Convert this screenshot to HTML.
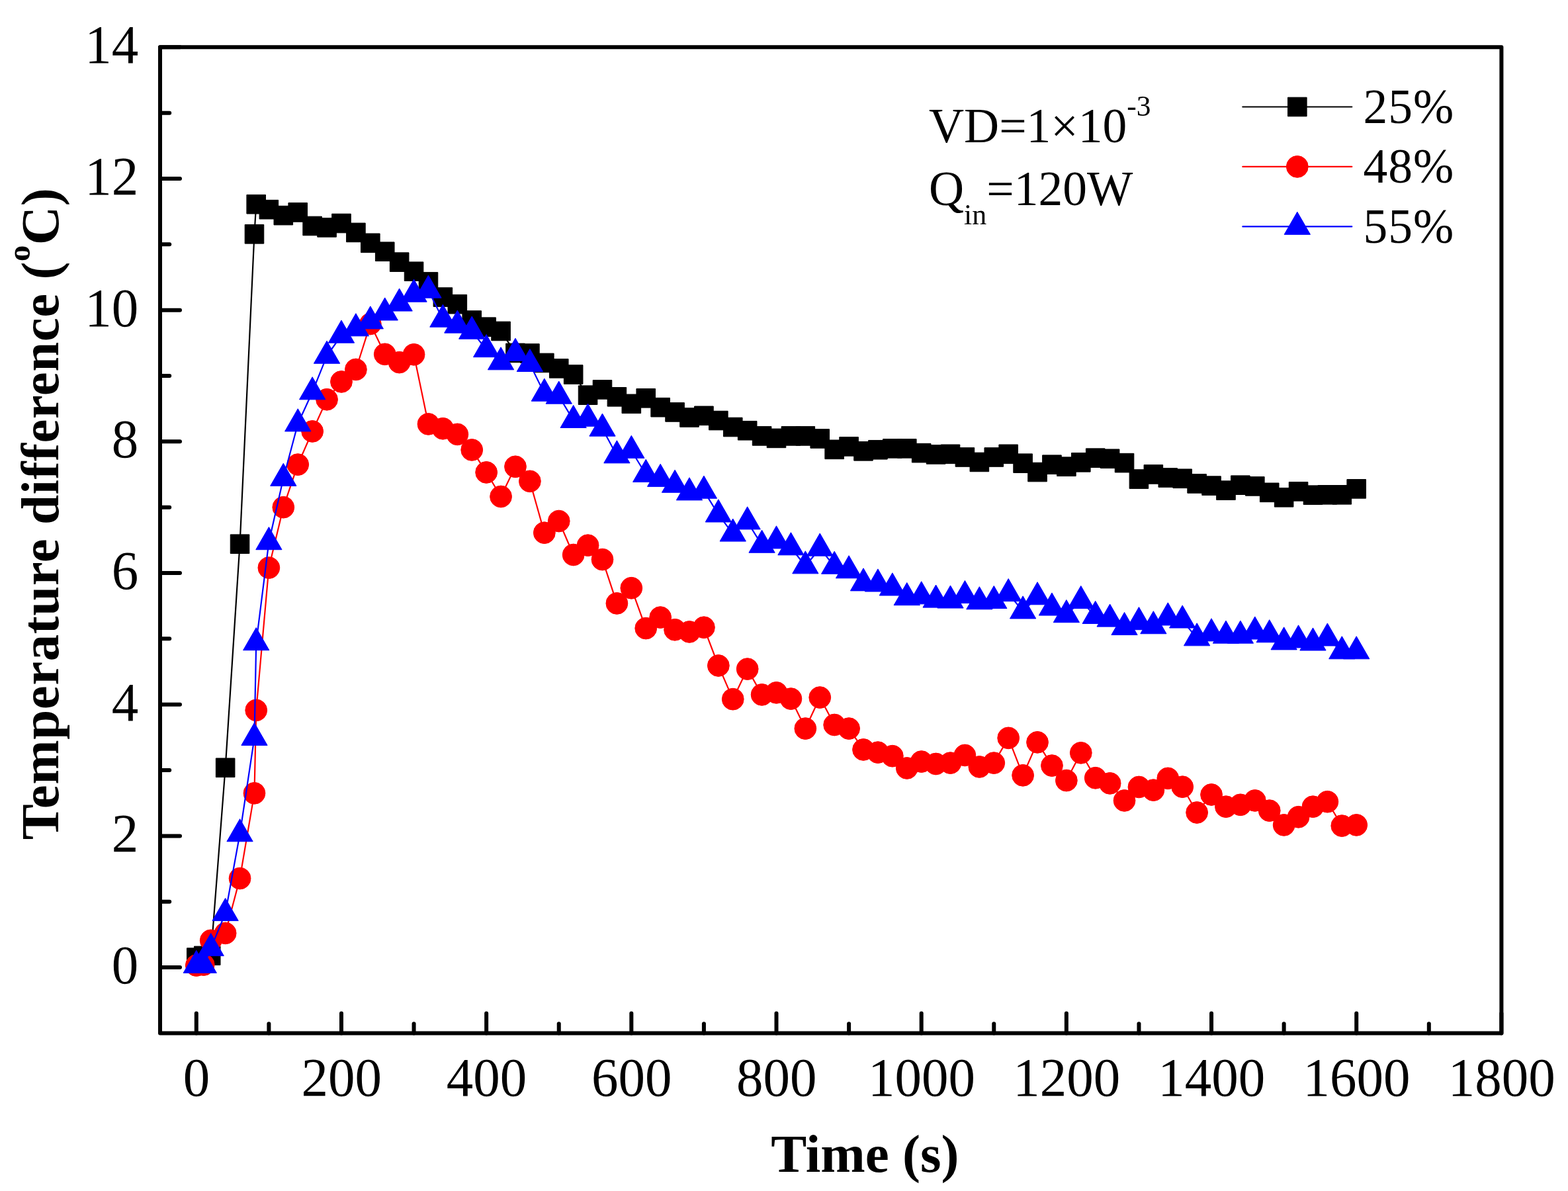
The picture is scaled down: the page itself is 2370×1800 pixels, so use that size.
<!DOCTYPE html>
<html lang="en"><head><meta charset="utf-8"><title>Temperature difference vs time</title>
<style>
html,body{margin:0;padding:0;background:#fff;}
body{width:2370px;height:1800px;overflow:hidden;}
svg{display:block;}
text{font-family:"Liberation Serif",serif;fill:#000;}
.tk{font-size:81px;}
.tt{font-size:81px;font-weight:bold;}
.lg{font-size:73.5px;}
</style></head><body>
<svg width="2370" height="1800" viewBox="0 0 2370 1800">
<rect x="0" y="0" width="2370" height="1800" fill="#fff"/>
<g>
<polyline fill="none" stroke="#000000" stroke-width="2.2" stroke-linejoin="round" stroke-linecap="round" points="296.79,1447.16 307.75,1444.48 318.71,1444.18 340.63,1160.27 362.55,822.21 384.47,353.82 387.21,308.72 406.38,316.67 428.3,325.61 450.22,320.94 472.14,341.5 494.06,343.89 515.97,337.53 537.89,351.44 559.81,367.33 581.73,380.25 603.64,396.14 625.56,410.25 647.48,425.94 669.4,449.09 691.32,459.72 713.23,484.06 735.15,494.19 757.07,500.45 778.99,533.43 800.9,534.03 822.82,548.43 844.74,556.87 866.66,566.01 888.58,597.21 910.49,588.86 932.41,599.79 954.33,610.32 976.25,601.78 998.17,615.68 1020.08,622.94 1042,630.98 1063.92,628.3 1085.84,635.55 1107.75,645.49 1129.67,650.75 1151.59,658.9 1173.51,662.37 1195.43,658.9 1217.34,658.9 1239.26,662.97 1261.18,679.36 1283.1,674.89 1305.02,681.84 1326.93,679.76 1348.85,677.87 1370.77,677.87 1392.69,684.63 1414.6,686.91 1436.52,686.31 1458.44,690.98 1480.36,698.43 1502.28,690.98 1524.19,686.31 1546.11,700.22 1568.03,713.53 1589.95,702.21 1611.86,705.19 1633.78,698.83 1655.7,692.18 1677.62,693.27 1699.54,699.63 1721.45,724.06 1743.37,716.91 1765.29,721.98 1787.21,723.27 1809.13,730.92 1831.04,734.1 1852.96,741.15 1874.88,733.2 1896.8,734.89 1918.71,744.33 1940.63,751.78 1962.55,742.84 1984.47,748.2 2006.39,747.81 2028.3,747.81 2050.22,738.86"/>
<g fill="#000000" stroke="#000000" stroke-width="1" stroke-linejoin="round">
<rect x="282.49" y="1432.86" width="28.6" height="28.6"/>
<rect x="293.45" y="1430.18" width="28.6" height="28.6"/>
<rect x="304.41" y="1429.88" width="28.6" height="28.6"/>
<rect x="326.33" y="1145.97" width="28.6" height="28.6"/>
<rect x="348.25" y="807.91" width="28.6" height="28.6"/>
<rect x="370.17" y="339.52" width="28.6" height="28.6"/>
<rect x="372.91" y="294.42" width="28.6" height="28.6"/>
<rect x="392.08" y="302.37" width="28.6" height="28.6"/>
<rect x="414" y="311.31" width="28.6" height="28.6"/>
<rect x="435.92" y="306.64" width="28.6" height="28.6"/>
<rect x="457.84" y="327.2" width="28.6" height="28.6"/>
<rect x="479.76" y="329.59" width="28.6" height="28.6"/>
<rect x="501.67" y="323.23" width="28.6" height="28.6"/>
<rect x="523.59" y="337.14" width="28.6" height="28.6"/>
<rect x="545.51" y="353.03" width="28.6" height="28.6"/>
<rect x="567.43" y="365.95" width="28.6" height="28.6"/>
<rect x="589.34" y="381.84" width="28.6" height="28.6"/>
<rect x="611.26" y="395.95" width="28.6" height="28.6"/>
<rect x="633.18" y="411.64" width="28.6" height="28.6"/>
<rect x="655.1" y="434.79" width="28.6" height="28.6"/>
<rect x="677.02" y="445.42" width="28.6" height="28.6"/>
<rect x="698.93" y="469.76" width="28.6" height="28.6"/>
<rect x="720.85" y="479.89" width="28.6" height="28.6"/>
<rect x="742.77" y="486.15" width="28.6" height="28.6"/>
<rect x="764.69" y="519.13" width="28.6" height="28.6"/>
<rect x="786.6" y="519.73" width="28.6" height="28.6"/>
<rect x="808.52" y="534.13" width="28.6" height="28.6"/>
<rect x="830.44" y="542.57" width="28.6" height="28.6"/>
<rect x="852.36" y="551.71" width="28.6" height="28.6"/>
<rect x="874.28" y="582.91" width="28.6" height="28.6"/>
<rect x="896.19" y="574.56" width="28.6" height="28.6"/>
<rect x="918.11" y="585.49" width="28.6" height="28.6"/>
<rect x="940.03" y="596.02" width="28.6" height="28.6"/>
<rect x="961.95" y="587.48" width="28.6" height="28.6"/>
<rect x="983.87" y="601.38" width="28.6" height="28.6"/>
<rect x="1005.78" y="608.64" width="28.6" height="28.6"/>
<rect x="1027.7" y="616.68" width="28.6" height="28.6"/>
<rect x="1049.62" y="614" width="28.6" height="28.6"/>
<rect x="1071.54" y="621.25" width="28.6" height="28.6"/>
<rect x="1093.45" y="631.19" width="28.6" height="28.6"/>
<rect x="1115.37" y="636.45" width="28.6" height="28.6"/>
<rect x="1137.29" y="644.6" width="28.6" height="28.6"/>
<rect x="1159.21" y="648.07" width="28.6" height="28.6"/>
<rect x="1181.13" y="644.6" width="28.6" height="28.6"/>
<rect x="1203.04" y="644.6" width="28.6" height="28.6"/>
<rect x="1224.96" y="648.67" width="28.6" height="28.6"/>
<rect x="1246.88" y="665.06" width="28.6" height="28.6"/>
<rect x="1268.8" y="660.59" width="28.6" height="28.6"/>
<rect x="1290.72" y="667.54" width="28.6" height="28.6"/>
<rect x="1312.63" y="665.46" width="28.6" height="28.6"/>
<rect x="1334.55" y="663.57" width="28.6" height="28.6"/>
<rect x="1356.47" y="663.57" width="28.6" height="28.6"/>
<rect x="1378.39" y="670.33" width="28.6" height="28.6"/>
<rect x="1400.3" y="672.61" width="28.6" height="28.6"/>
<rect x="1422.22" y="672.01" width="28.6" height="28.6"/>
<rect x="1444.14" y="676.68" width="28.6" height="28.6"/>
<rect x="1466.06" y="684.13" width="28.6" height="28.6"/>
<rect x="1487.98" y="676.68" width="28.6" height="28.6"/>
<rect x="1509.89" y="672.01" width="28.6" height="28.6"/>
<rect x="1531.81" y="685.92" width="28.6" height="28.6"/>
<rect x="1553.73" y="699.23" width="28.6" height="28.6"/>
<rect x="1575.65" y="687.91" width="28.6" height="28.6"/>
<rect x="1597.56" y="690.89" width="28.6" height="28.6"/>
<rect x="1619.48" y="684.53" width="28.6" height="28.6"/>
<rect x="1641.4" y="677.88" width="28.6" height="28.6"/>
<rect x="1663.32" y="678.97" width="28.6" height="28.6"/>
<rect x="1685.24" y="685.33" width="28.6" height="28.6"/>
<rect x="1707.15" y="709.76" width="28.6" height="28.6"/>
<rect x="1729.07" y="702.61" width="28.6" height="28.6"/>
<rect x="1750.99" y="707.68" width="28.6" height="28.6"/>
<rect x="1772.91" y="708.97" width="28.6" height="28.6"/>
<rect x="1794.83" y="716.62" width="28.6" height="28.6"/>
<rect x="1816.74" y="719.8" width="28.6" height="28.6"/>
<rect x="1838.66" y="726.85" width="28.6" height="28.6"/>
<rect x="1860.58" y="718.9" width="28.6" height="28.6"/>
<rect x="1882.5" y="720.59" width="28.6" height="28.6"/>
<rect x="1904.41" y="730.03" width="28.6" height="28.6"/>
<rect x="1926.33" y="737.48" width="28.6" height="28.6"/>
<rect x="1948.25" y="728.54" width="28.6" height="28.6"/>
<rect x="1970.17" y="733.9" width="28.6" height="28.6"/>
<rect x="1992.09" y="733.51" width="28.6" height="28.6"/>
<rect x="2014" y="733.51" width="28.6" height="28.6"/>
<rect x="2035.92" y="724.56" width="28.6" height="28.6"/>
</g></g>
<g>
<polyline fill="none" stroke="#ff0000" stroke-width="2.2" stroke-linejoin="round" stroke-linecap="round" points="296.79,1459.08 307.75,1458.09 318.71,1421.33 340.63,1410.4 362.55,1327.55 384.47,1198.81 387.21,1073.44 406.38,858.07 428.3,766.68 450.22,702.11 472.14,651.94 494.06,603.76 515.97,576.94 537.89,558.46 559.81,489.52 581.73,535.32 603.64,547.64 625.56,535.81 647.48,640.92 669.4,647.77 691.32,656.41 713.23,679.96 735.15,713.93 757.07,750.49 778.99,705.29 800.9,727.34 822.82,805.22 844.74,787.54 866.66,838.5 888.58,824.2 910.49,845.56 932.41,911.92 954.33,888.77 976.25,949.56 998.17,933.07 1020.08,951.75 1042,954.93 1063.92,948.27 1085.84,1005.99 1107.75,1056.65 1129.67,1011.06 1151.59,1049.9 1173.51,1046.82 1195.43,1056.06 1217.34,1101.06 1239.26,1054.07 1261.18,1095.5 1283.1,1101.06 1305.02,1132.95 1326.93,1137.12 1348.85,1142.68 1370.77,1160.96 1392.69,1151.03 1414.6,1154.5 1436.52,1153.11 1458.44,1141.49 1480.36,1158.97 1502.28,1153.11 1524.19,1115.36 1546.11,1171.79 1568.03,1121.82 1589.95,1157.09 1611.86,1179.54 1633.78,1137.81 1655.7,1175.76 1677.62,1183.91 1699.54,1209.94 1721.45,1189.47 1743.37,1194.14 1765.29,1176.36 1787.21,1189.17 1809.13,1228.01 1831.04,1200.99 1852.96,1219.17 1874.88,1216.29 1896.8,1209.94 1918.71,1225.13 1940.63,1246.89 1962.55,1234.77 1984.47,1219.17 2006.39,1211.72 2028.3,1248.08 2050.22,1246.89"/>
<g fill="#ff0000" stroke="#ff0000" stroke-width="1" stroke-linejoin="round">
<circle cx="296.79" cy="1459.08" r="16.4"/>
<circle cx="307.75" cy="1458.09" r="16.4"/>
<circle cx="318.71" cy="1421.33" r="16.4"/>
<circle cx="340.63" cy="1410.4" r="16.4"/>
<circle cx="362.55" cy="1327.55" r="16.4"/>
<circle cx="384.47" cy="1198.81" r="16.4"/>
<circle cx="387.21" cy="1073.44" r="16.4"/>
<circle cx="406.38" cy="858.07" r="16.4"/>
<circle cx="428.3" cy="766.68" r="16.4"/>
<circle cx="450.22" cy="702.11" r="16.4"/>
<circle cx="472.14" cy="651.94" r="16.4"/>
<circle cx="494.06" cy="603.76" r="16.4"/>
<circle cx="515.97" cy="576.94" r="16.4"/>
<circle cx="537.89" cy="558.46" r="16.4"/>
<circle cx="559.81" cy="489.52" r="16.4"/>
<circle cx="581.73" cy="535.32" r="16.4"/>
<circle cx="603.64" cy="547.64" r="16.4"/>
<circle cx="625.56" cy="535.81" r="16.4"/>
<circle cx="647.48" cy="640.92" r="16.4"/>
<circle cx="669.4" cy="647.77" r="16.4"/>
<circle cx="691.32" cy="656.41" r="16.4"/>
<circle cx="713.23" cy="679.96" r="16.4"/>
<circle cx="735.15" cy="713.93" r="16.4"/>
<circle cx="757.07" cy="750.49" r="16.4"/>
<circle cx="778.99" cy="705.29" r="16.4"/>
<circle cx="800.9" cy="727.34" r="16.4"/>
<circle cx="822.82" cy="805.22" r="16.4"/>
<circle cx="844.74" cy="787.54" r="16.4"/>
<circle cx="866.66" cy="838.5" r="16.4"/>
<circle cx="888.58" cy="824.2" r="16.4"/>
<circle cx="910.49" cy="845.56" r="16.4"/>
<circle cx="932.41" cy="911.92" r="16.4"/>
<circle cx="954.33" cy="888.77" r="16.4"/>
<circle cx="976.25" cy="949.56" r="16.4"/>
<circle cx="998.17" cy="933.07" r="16.4"/>
<circle cx="1020.08" cy="951.75" r="16.4"/>
<circle cx="1042" cy="954.93" r="16.4"/>
<circle cx="1063.92" cy="948.27" r="16.4"/>
<circle cx="1085.84" cy="1005.99" r="16.4"/>
<circle cx="1107.75" cy="1056.65" r="16.4"/>
<circle cx="1129.67" cy="1011.06" r="16.4"/>
<circle cx="1151.59" cy="1049.9" r="16.4"/>
<circle cx="1173.51" cy="1046.82" r="16.4"/>
<circle cx="1195.43" cy="1056.06" r="16.4"/>
<circle cx="1217.34" cy="1101.06" r="16.4"/>
<circle cx="1239.26" cy="1054.07" r="16.4"/>
<circle cx="1261.18" cy="1095.5" r="16.4"/>
<circle cx="1283.1" cy="1101.06" r="16.4"/>
<circle cx="1305.02" cy="1132.95" r="16.4"/>
<circle cx="1326.93" cy="1137.12" r="16.4"/>
<circle cx="1348.85" cy="1142.68" r="16.4"/>
<circle cx="1370.77" cy="1160.96" r="16.4"/>
<circle cx="1392.69" cy="1151.03" r="16.4"/>
<circle cx="1414.6" cy="1154.5" r="16.4"/>
<circle cx="1436.52" cy="1153.11" r="16.4"/>
<circle cx="1458.44" cy="1141.49" r="16.4"/>
<circle cx="1480.36" cy="1158.97" r="16.4"/>
<circle cx="1502.28" cy="1153.11" r="16.4"/>
<circle cx="1524.19" cy="1115.36" r="16.4"/>
<circle cx="1546.11" cy="1171.79" r="16.4"/>
<circle cx="1568.03" cy="1121.82" r="16.4"/>
<circle cx="1589.95" cy="1157.09" r="16.4"/>
<circle cx="1611.86" cy="1179.54" r="16.4"/>
<circle cx="1633.78" cy="1137.81" r="16.4"/>
<circle cx="1655.7" cy="1175.76" r="16.4"/>
<circle cx="1677.62" cy="1183.91" r="16.4"/>
<circle cx="1699.54" cy="1209.94" r="16.4"/>
<circle cx="1721.45" cy="1189.47" r="16.4"/>
<circle cx="1743.37" cy="1194.14" r="16.4"/>
<circle cx="1765.29" cy="1176.36" r="16.4"/>
<circle cx="1787.21" cy="1189.17" r="16.4"/>
<circle cx="1809.13" cy="1228.01" r="16.4"/>
<circle cx="1831.04" cy="1200.99" r="16.4"/>
<circle cx="1852.96" cy="1219.17" r="16.4"/>
<circle cx="1874.88" cy="1216.29" r="16.4"/>
<circle cx="1896.8" cy="1209.94" r="16.4"/>
<circle cx="1918.71" cy="1225.13" r="16.4"/>
<circle cx="1940.63" cy="1246.89" r="16.4"/>
<circle cx="1962.55" cy="1234.77" r="16.4"/>
<circle cx="1984.47" cy="1219.17" r="16.4"/>
<circle cx="2006.39" cy="1211.72" r="16.4"/>
<circle cx="2028.3" cy="1248.08" r="16.4"/>
<circle cx="2050.22" cy="1246.89" r="16.4"/>
</g></g>
<g>
<polyline fill="none" stroke="#0000ff" stroke-width="2.2" stroke-linejoin="round" stroke-linecap="round" points="296.79,1459.08 307.75,1459.08 318.71,1433.25 340.63,1380.2 362.55,1260.4 384.47,1115.07 387.21,971.32 406.38,819.33 428.3,722.97 450.22,640.52 472.14,592.44 494.06,537.9 515.97,506.81 537.89,496.48 559.81,485.55 581.73,472.63 603.64,458.73 625.56,444.82 647.48,438.86 669.4,482.87 691.32,491.81 713.23,500.85 735.15,528.26 757.07,547.44 778.99,533.93 800.9,550.12 822.82,594.82 844.74,598.8 866.66,635.15 888.58,632.87 910.49,647.77 932.41,688.5 954.33,680.95 976.25,717.01 998.17,723.96 1020.08,732.9 1042,744.53 1063.92,741.85 1085.84,777.61 1107.75,806.71 1129.67,788.53 1151.59,823.9 1173.51,817.54 1195.43,827.48 1217.34,855.49 1239.26,828.77 1261.18,855.89 1283.1,862.44 1305.02,881.52 1326.93,882.61 1348.85,888.57 1370.77,903.27 1392.69,901.48 1414.6,906.75 1436.52,907.64 1458.44,900.19 1480.36,909.43 1502.28,908.14 1524.19,897.31 1546.11,923.54 1568.03,902.38 1589.95,918.67 1611.86,929.3 1633.78,908.14 1655.7,931.09 1677.62,935.76 1699.54,948.17 1721.45,940.33 1743.37,946.39 1765.29,933.57 1787.21,937.64 1809.13,964.47 1831.04,957.51 1852.96,960.79 1874.88,960.79 1896.8,954.63 1918.71,959.4 1940.63,970.53 1962.55,967.55 1984.47,971.62 2006.39,964.66 2028.3,984.43 2050.22,984.43"/>
<g fill="#0000ff" stroke="#0000ff" stroke-width="1" stroke-linejoin="round">
<polygon points="296.79,1436.35 316.43,1470.45 277.16,1470.45"/>
<polygon points="307.75,1436.35 327.39,1470.45 288.12,1470.45"/>
<polygon points="318.71,1410.52 338.35,1444.62 299.08,1444.62"/>
<polygon points="340.63,1357.47 360.27,1391.57 320.99,1391.57"/>
<polygon points="362.55,1237.67 382.18,1271.77 342.91,1271.77"/>
<polygon points="384.47,1092.33 404.1,1126.43 364.83,1126.43"/>
<polygon points="387.21,948.59 406.84,982.69 367.57,982.69"/>
<polygon points="406.38,796.6 426.02,830.7 386.75,830.7"/>
<polygon points="428.3,700.24 447.94,734.34 408.67,734.34"/>
<polygon points="450.22,617.78 469.86,651.88 430.58,651.88"/>
<polygon points="472.14,569.7 491.77,603.8 452.5,603.8"/>
<polygon points="494.06,515.17 513.69,549.27 474.42,549.27"/>
<polygon points="515.97,484.07 535.61,518.17 496.34,518.17"/>
<polygon points="537.89,473.74 557.53,507.84 518.25,507.84"/>
<polygon points="559.81,462.81 579.44,496.91 540.17,496.91"/>
<polygon points="581.73,449.9 601.36,484 562.09,484"/>
<polygon points="603.64,435.99 623.28,470.09 584.01,470.09"/>
<polygon points="625.56,422.09 645.2,456.19 605.93,456.19"/>
<polygon points="647.48,416.12 667.12,450.22 627.84,450.22"/>
<polygon points="669.4,460.13 689.03,494.23 649.76,494.23"/>
<polygon points="691.32,469.07 710.95,503.17 671.68,503.17"/>
<polygon points="713.23,478.11 732.87,512.21 693.6,512.21"/>
<polygon points="735.15,505.53 754.79,539.63 715.52,539.63"/>
<polygon points="757.07,524.7 776.71,558.8 737.43,558.8"/>
<polygon points="778.99,511.19 798.62,545.29 759.35,545.29"/>
<polygon points="800.9,527.39 820.54,561.49 781.27,561.49"/>
<polygon points="822.82,572.09 842.46,606.19 803.19,606.19"/>
<polygon points="844.74,576.06 864.38,610.16 825.1,610.16"/>
<polygon points="866.66,612.42 886.29,646.52 847.02,646.52"/>
<polygon points="888.58,610.14 908.21,644.24 868.94,644.24"/>
<polygon points="910.49,625.04 930.13,659.14 890.86,659.14"/>
<polygon points="932.41,665.77 952.05,699.87 912.78,699.87"/>
<polygon points="954.33,658.22 973.97,692.32 934.69,692.32"/>
<polygon points="976.25,694.28 995.88,728.38 956.61,728.38"/>
<polygon points="998.17,701.23 1017.8,735.33 978.53,735.33"/>
<polygon points="1020.08,710.17 1039.72,744.27 1000.45,744.27"/>
<polygon points="1042,721.79 1061.64,755.89 1022.36,755.89"/>
<polygon points="1063.92,719.11 1083.56,753.21 1044.28,753.21"/>
<polygon points="1085.84,754.87 1105.47,788.97 1066.2,788.97"/>
<polygon points="1107.75,783.98 1127.39,818.08 1088.12,818.08"/>
<polygon points="1129.67,765.8 1149.31,799.9 1110.04,799.9"/>
<polygon points="1151.59,801.17 1171.23,835.27 1131.95,835.27"/>
<polygon points="1173.51,794.81 1193.14,828.91 1153.87,828.91"/>
<polygon points="1195.43,804.74 1215.06,838.84 1175.79,838.84"/>
<polygon points="1217.34,832.76 1236.98,866.86 1197.71,866.86"/>
<polygon points="1239.26,806.03 1258.9,840.13 1219.63,840.13"/>
<polygon points="1261.18,833.15 1280.82,867.25 1241.54,867.25"/>
<polygon points="1283.1,839.71 1302.73,873.81 1263.46,873.81"/>
<polygon points="1305.02,858.78 1324.65,892.88 1285.38,892.88"/>
<polygon points="1326.93,859.88 1346.57,893.98 1307.3,893.98"/>
<polygon points="1348.85,865.84 1368.49,899.94 1329.21,899.94"/>
<polygon points="1370.77,880.54 1390.4,914.64 1351.13,914.64"/>
<polygon points="1392.69,878.75 1412.32,912.85 1373.05,912.85"/>
<polygon points="1414.6,884.02 1434.24,918.12 1394.97,918.12"/>
<polygon points="1436.52,884.91 1456.16,919.01 1416.89,919.01"/>
<polygon points="1458.44,877.46 1478.08,911.56 1438.8,911.56"/>
<polygon points="1480.36,886.7 1499.99,920.8 1460.72,920.8"/>
<polygon points="1502.28,885.41 1521.91,919.51 1482.64,919.51"/>
<polygon points="1524.19,874.58 1543.83,908.68 1504.56,908.68"/>
<polygon points="1546.11,900.8 1565.75,934.9 1526.48,934.9"/>
<polygon points="1568.03,879.65 1587.67,913.75 1548.39,913.75"/>
<polygon points="1589.95,895.94 1609.58,930.04 1570.31,930.04"/>
<polygon points="1611.86,906.57 1631.5,940.67 1592.23,940.67"/>
<polygon points="1633.78,885.41 1653.42,919.51 1614.15,919.51"/>
<polygon points="1655.7,908.35 1675.34,942.45 1636.06,942.45"/>
<polygon points="1677.62,913.02 1697.25,947.12 1657.98,947.12"/>
<polygon points="1699.54,925.44 1719.17,959.54 1679.9,959.54"/>
<polygon points="1721.45,917.59 1741.09,951.69 1701.82,951.69"/>
<polygon points="1743.37,923.65 1763.01,957.75 1723.74,957.75"/>
<polygon points="1765.29,910.84 1784.93,944.94 1745.65,944.94"/>
<polygon points="1787.21,914.91 1806.84,949.01 1767.57,949.01"/>
<polygon points="1809.13,941.73 1828.76,975.83 1789.49,975.83"/>
<polygon points="1831.04,934.78 1850.68,968.88 1811.41,968.88"/>
<polygon points="1852.96,938.06 1872.6,972.16 1833.32,972.16"/>
<polygon points="1874.88,938.06 1894.52,972.16 1855.24,972.16"/>
<polygon points="1896.8,931.9 1916.43,966 1877.16,966"/>
<polygon points="1918.71,936.67 1938.35,970.77 1899.08,970.77"/>
<polygon points="1940.63,947.79 1960.27,981.89 1921,981.89"/>
<polygon points="1962.55,944.81 1982.19,978.91 1942.91,978.91"/>
<polygon points="1984.47,948.89 2004.1,982.99 1964.83,982.99"/>
<polygon points="2006.39,941.93 2026.02,976.03 1986.75,976.03"/>
<polygon points="2028.3,961.7 2047.94,995.8 2008.67,995.8"/>
<polygon points="2050.22,961.7 2069.86,995.8 2030.59,995.8"/>
</g></g>
<g stroke="#000" fill="none" stroke-linecap="round" stroke-linejoin="round">
<rect x="242" y="71.3" width="2027.4" height="1490.1" stroke-width="6"/>
<g stroke-width="6">
<line x1="296.79" y1="1561.4" x2="296.79" y2="1531.4"/>
<line x1="406.38" y1="1561.4" x2="406.38" y2="1547.2"/>
<line x1="515.97" y1="1561.4" x2="515.97" y2="1531.4"/>
<line x1="625.56" y1="1561.4" x2="625.56" y2="1547.2"/>
<line x1="735.15" y1="1561.4" x2="735.15" y2="1531.4"/>
<line x1="844.74" y1="1561.4" x2="844.74" y2="1547.2"/>
<line x1="954.33" y1="1561.4" x2="954.33" y2="1531.4"/>
<line x1="1063.92" y1="1561.4" x2="1063.92" y2="1547.2"/>
<line x1="1173.51" y1="1561.4" x2="1173.51" y2="1531.4"/>
<line x1="1283.1" y1="1561.4" x2="1283.1" y2="1547.2"/>
<line x1="1392.69" y1="1561.4" x2="1392.69" y2="1531.4"/>
<line x1="1502.28" y1="1561.4" x2="1502.28" y2="1547.2"/>
<line x1="1611.86" y1="1561.4" x2="1611.86" y2="1531.4"/>
<line x1="1721.45" y1="1561.4" x2="1721.45" y2="1547.2"/>
<line x1="1831.04" y1="1561.4" x2="1831.04" y2="1531.4"/>
<line x1="1940.63" y1="1561.4" x2="1940.63" y2="1547.2"/>
<line x1="2050.22" y1="1561.4" x2="2050.22" y2="1531.4"/>
<line x1="2159.81" y1="1561.4" x2="2159.81" y2="1547.2"/>
<line x1="2269.4" y1="1561.4" x2="2269.4" y2="1531.4"/>
<line x1="242" y1="1462.06" x2="272" y2="1462.06"/>
<line x1="242" y1="1362.72" x2="256.2" y2="1362.72"/>
<line x1="242" y1="1263.38" x2="272" y2="1263.38"/>
<line x1="242" y1="1164.04" x2="256.2" y2="1164.04"/>
<line x1="242" y1="1064.7" x2="272" y2="1064.7"/>
<line x1="242" y1="965.36" x2="256.2" y2="965.36"/>
<line x1="242" y1="866.02" x2="272" y2="866.02"/>
<line x1="242" y1="766.68" x2="256.2" y2="766.68"/>
<line x1="242" y1="667.34" x2="272" y2="667.34"/>
<line x1="242" y1="568" x2="256.2" y2="568"/>
<line x1="242" y1="468.66" x2="272" y2="468.66"/>
<line x1="242" y1="369.32" x2="256.2" y2="369.32"/>
<line x1="242" y1="269.98" x2="272" y2="269.98"/>
<line x1="242" y1="170.64" x2="256.2" y2="170.64"/>
<line x1="242" y1="71.3" x2="272" y2="71.3"/>
</g></g>
<g class="tk" text-anchor="middle">
<text transform="translate(297.09 1655.7) scale(1 1.02)">0</text>
<text transform="translate(516.27 1655.7) scale(1 1.02)">200</text>
<text transform="translate(735.45 1655.7) scale(1 1.02)">400</text>
<text transform="translate(954.63 1655.7) scale(1 1.02)">600</text>
<text transform="translate(1173.81 1655.7) scale(1 1.02)">800</text>
<text transform="translate(1392.99 1655.7) scale(1 1.02)">1000</text>
<text transform="translate(1612.16 1655.7) scale(1 1.02)">1200</text>
<text transform="translate(1831.34 1655.7) scale(1 1.02)">1400</text>
<text transform="translate(2050.52 1655.7) scale(1 1.02)">1600</text>
<text transform="translate(2269.7 1655.7) scale(1 1.02)">1800</text>
</g>
<g class="tk" text-anchor="end">
<text transform="translate(209.3 1486.06) scale(1 1.02)">0</text>
<text transform="translate(209.3 1287.38) scale(1 1.02)">2</text>
<text transform="translate(209.3 1088.7) scale(1 1.02)">4</text>
<text transform="translate(209.3 890.02) scale(1 1.02)">6</text>
<text transform="translate(209.3 691.34) scale(1 1.02)">8</text>
<text transform="translate(209.3 492.66) scale(1 1.02)">10</text>
<text transform="translate(209.3 293.98) scale(1 1.02)">12</text>
<text transform="translate(209.3 95.3) scale(1 1.02)">14</text>
</g>
<text class="tt" text-anchor="middle" x="1307.3" y="1771">Time (s)</text>
<text class="tt" text-anchor="middle" style="letter-spacing:0.5px" transform="translate(87.5 776.5) rotate(-90)">Temperature difference (<tspan font-size="48.6px" dy="-43">o</tspan><tspan dy="43">C)</tspan></text>
<text class="lg" transform="translate(1404 215.3) scale(1 1.02)">VD=1×10<tspan font-size="43.5px" dy="-39.3">-3</tspan></text>
<text class="lg" transform="translate(1404 309.9) scale(1 1.02)">Q<tspan font-size="44px" dy="28.7">in</tspan><tspan dy="-28.7">=120W</tspan></text>
<line x1="1878.3" y1="161.5" x2="2043.3" y2="161.5" stroke="#000000" stroke-width="2.2" stroke-linecap="round"/>
<g fill="#000000" stroke="#000000" stroke-width="1" stroke-linejoin="round"><rect x="1946.5" y="147.2" width="28.6" height="28.6"/></g>
<text class="lg" style="letter-spacing:1px" transform="translate(2060.6 186) scale(1 1.02)">25%</text>
<line x1="1878.3" y1="251.9" x2="2043.3" y2="251.9" stroke="#ff0000" stroke-width="2.2" stroke-linecap="round"/>
<g fill="#ff0000" stroke="#ff0000" stroke-width="1" stroke-linejoin="round"><circle cx="1960.8" cy="251.9" r="16.4"/></g>
<text class="lg" style="letter-spacing:1px" transform="translate(2060.6 276) scale(1 1.02)">48%</text>
<line x1="1878.3" y1="342.4" x2="2043.3" y2="342.4" stroke="#0000ff" stroke-width="2.2" stroke-linecap="round"/>
<g fill="#0000ff" stroke="#0000ff" stroke-width="1" stroke-linejoin="round"><polygon points="1960.8,320.27 1980.44,354.37 1941.16,354.37"/></g>
<text class="lg" style="letter-spacing:1px" transform="translate(2060.6 366.8) scale(1 1.02)">55%</text>
</svg></body></html>
